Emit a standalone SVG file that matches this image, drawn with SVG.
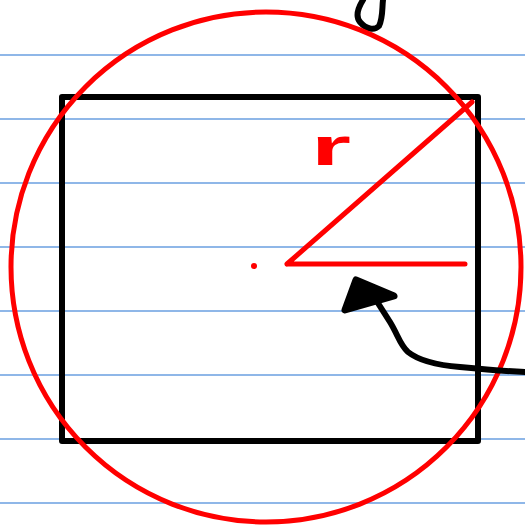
<svg xmlns="http://www.w3.org/2000/svg" width="525" height="527" viewBox="0 0 525 527">
<style>
.rule{stroke:#6a9fe0;stroke-width:1.5;fill:none}
.ink{stroke:#000;stroke-width:6;fill:none;stroke-linecap:round;stroke-linejoin:round}
.red{stroke:#ff0000;stroke-width:5;fill:none;stroke-linecap:round;stroke-linejoin:round}
.head{stroke:#000;stroke-width:7;fill:#000;stroke-linejoin:round}
</style>
<rect width="525" height="527" fill="#fff"/>
<g id="ruled-lines">
<line class="rule" x1="0" y1="55" x2="525" y2="55"/>
<line class="rule" x1="0" y1="119" x2="525" y2="119"/>
<line class="rule" x1="0" y1="183" x2="525" y2="183"/>
<line class="rule" x1="0" y1="247" x2="525" y2="247"/>
<line class="rule" x1="0" y1="311" x2="525" y2="311"/>
<line class="rule" x1="0" y1="375" x2="525" y2="375"/>
<line class="rule" x1="0" y1="439" x2="525" y2="439"/>
<line class="rule" x1="0" y1="503" x2="525" y2="503"/>
</g>
<g id="square">
<rect class="ink" x="62" y="97" width="416" height="344" stroke-linecap="butt" stroke-linejoin="miter"/>
</g>
<g id="top-stroke">
<path class="ink" stroke-width="5" d="M363,0 C358,8 355,16 360,22 C366,29 374,31 379,26 C383,18 382,8 383,0"/>
</g>
<g id="circle">
<circle class="red" cx="266" cy="267" r="255"/>
</g>
<g id="radius">
<circle cx="254" cy="266" r="3" fill="#ff0000"/>
<path class="red" d="M287,264 L465,264 M287,264 L472,102"/>
<text x="0" y="0" transform="translate(311,165) scale(1.9,1)" font-family="'Liberation Sans', sans-serif" font-weight="bold" font-size="54" fill="#ff0000">r</text>
</g>
<g id="connectors">
<path class="ink" stroke-width="6.5" d="M525,372 C500,371 480,369 460,367 C435,365 418,360 408,352 C400,345 398,335 390,322 L376,300"/>
<path class="head" d="M356,280 L345,310 L394,296 Z"/>
</g>
</svg>
